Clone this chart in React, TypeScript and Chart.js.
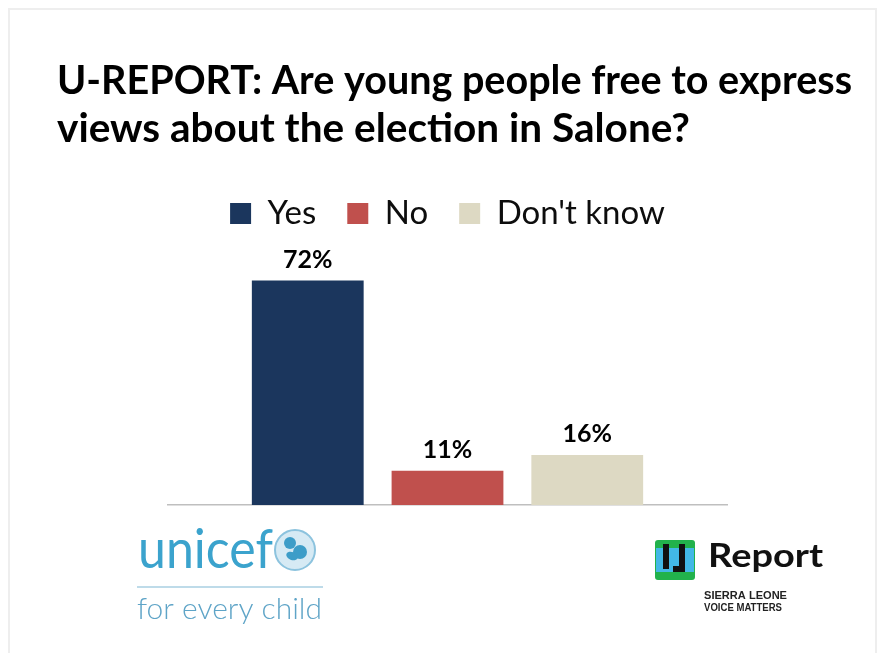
import React, { useEffect, useRef } from "react";
import { Chart, registerables } from "chart.js";

Chart.register(...registerables);

// ---- data ----
const categories = [""];
const seriesNames = ["Yes", "No", "Don't know"];
const yesValues = [72];
const noValues = [11];
const dontKnowValues = [16];
const seriesColors = ["#1B365D", "#C0504D", "#DDD9C3"];
const titleLines = [
  "U-REPORT: Are young people free to express",
  "views about the election in Salone?",
];
const unicefName = "unicef";
const unicefTagline = "for every child";
const ureportName = "Report";
const ureportLines = ["SIERRA LEONE", "VOICE MATTERS"];

function fitText(
  ctx: CanvasRenderingContext2D,
  text: string,
  x: number,
  y: number,
  font: string,
  color: string,
  targetWidth: number
) {
  ctx.save();
  ctx.font = font;
  ctx.fillStyle = color;
  ctx.textAlign = "left";
  ctx.textBaseline = "alphabetic";
  const w = ctx.measureText(text).width || 1;
  ctx.translate(x, y);
  ctx.scale(targetWidth / w, 1);
  ctx.fillText(text, 0, 0);
  ctx.restore();
}

const titleWidths = [795, 633];

const decorPlugin = {
  id: "decor",
  beforeDraw(chart: any) {
    const ctx: CanvasRenderingContext2D = chart.ctx;
    ctx.save();
    ctx.fillStyle = "#ffffff";
    ctx.fillRect(0, 0, chart.width, chart.height);
    // frame
    ctx.strokeStyle = "#eeeeee";
    ctx.lineWidth = 2;
    ctx.beginPath();
    ctx.moveTo(9, chart.height + 2);
    ctx.lineTo(9, 9);
    ctx.lineTo(876, 9);
    ctx.lineTo(876, chart.height + 2);
    ctx.stroke();
    ctx.restore();

    // title
    titleLines.forEach((line, i) => {
      fitText(ctx, line, 57, 94 + i * 48, "bold 40px Lato, 'Liberation Sans', sans-serif", "#000000", titleWidths[i]);
    });

    // unicef logo
    fitText(ctx, unicefName, 138, 568, "55px Lato, 'Liberation Sans', sans-serif", "#3BA3CD", 135);
    ctx.save();
    ctx.fillStyle = "#d6eaf4";
    ctx.strokeStyle = "#8cc3de";
    ctx.lineWidth = 2;
    ctx.beginPath();
    ctx.arc(295, 550, 20, 0, Math.PI * 2);
    ctx.fill();
    ctx.stroke();
    ctx.fillStyle = "#3d9dc8";
    ctx.beginPath();
    ctx.arc(290, 543, 6, 0, Math.PI * 2);
    ctx.fill();
    ctx.beginPath();
    ctx.arc(300, 552, 7, 0, Math.PI * 2);
    ctx.fill();
    ctx.beginPath();
    ctx.ellipse(292, 556, 6, 4, 0.4, 0, Math.PI * 2);
    ctx.fill();
    ctx.strokeStyle = "#a9cfe2";
    ctx.lineWidth = 1.5;
    ctx.beginPath();
    ctx.moveTo(137, 587);
    ctx.lineTo(323, 587);
    ctx.stroke();
    ctx.restore();
    fitText(ctx, unicefTagline, 137, 619, "300 29px Lato, 'Liberation Sans', sans-serif", "#5EA4C7", 185);

    // U-Report logo
    ctx.save();
    ctx.fillStyle = "#22B24C";
    ctx.beginPath();
    (ctx as any).roundRect ? (ctx as any).roundRect(655, 540, 40, 40, 3) : ctx.rect(655, 540, 40, 40);
    ctx.fill();
    ctx.fillStyle = "#42B8E6";
    ctx.fillRect(656, 548, 38, 24);
    ctx.fillStyle = "#111111";
    ctx.fillRect(663, 544, 6, 25);
    ctx.fillRect(679, 544, 6, 28);
    ctx.fillRect(673, 566, 12, 6);
    ctx.restore();
    fitText(ctx, ureportName, 708, 567, "bold 33px Lato, 'Liberation Sans', sans-serif", "#111111", 115);
    fitText(ctx, ureportLines[0], 704, 599, "bold 10px 'Liberation Sans', sans-serif", "#222222", 83);
    fitText(ctx, ureportLines[1], 704, 611, "bold 10px 'Liberation Sans', sans-serif", "#222222", 78);
  },
  afterDatasetsDraw(chart: any) {
    const ctx: CanvasRenderingContext2D = chart.ctx;
    ctx.save();
    ctx.font = "bold 25px Lato, 'Liberation Sans', sans-serif";
    ctx.fillStyle = "#000000";
    ctx.textAlign = "center";
    ctx.textBaseline = "alphabetic";
    chart.data.datasets.forEach((ds: any, di: number) => {
      const meta = chart.getDatasetMeta(di);
      meta.data.forEach((el: any, i: number) => {
        ctx.fillText(ds.data[i] + "%", el.x, el.y - 13);
      });
    });
    ctx.restore();
  },
};

export default function App() {
  const ref = useRef<HTMLCanvasElement | null>(null);
  useEffect(() => {
    if (!ref.current) return;
    const valueSets = [yesValues, noValues, dontKnowValues];
    const chart = new Chart(ref.current, {
      type: "bar",
      data: {
        labels: categories,
        datasets: seriesNames.map((name, i) => ({
          label: name,
          data: valueSets[i],
          backgroundColor: seriesColors[i],
          borderWidth: 0,
          barPercentage: 0.8,
          categoryPercentage: 0.75,
        })),
      },
      options: {
        responsive: false,
        animation: false,
        layout: { padding: { left: 168, right: 153, top: 166, bottom: 140 } },
        plugins: {
          legend: {
            position: "top",
            labels: {
              boxWidth: 21,
              boxHeight: 21,
              padding: 31,
              color: "#0d0d0d",
              font: { family: "Lato, 'Liberation Sans', sans-serif", size: 33 },
            },
          },
          title: { display: false },
          tooltip: { enabled: false },
        },
        scales: {
          x: {
            grid: { display: false },
            ticks: { display: false },
            border: { display: true, color: "#BFBFBF", width: 1.5 },
          },
          y: { display: false, min: 0, max: 85 },
        },
      },
      plugins: [decorPlugin],
    });
    return () => chart.destroy();
  }, []);
  return (
    <div style={{ position: "absolute", left: 0, top: 0, width: 880, height: 653 }}>
      <canvas ref={ref} width={880} height={653} style={{ display: "block" }} />
    </div>
  );
}
